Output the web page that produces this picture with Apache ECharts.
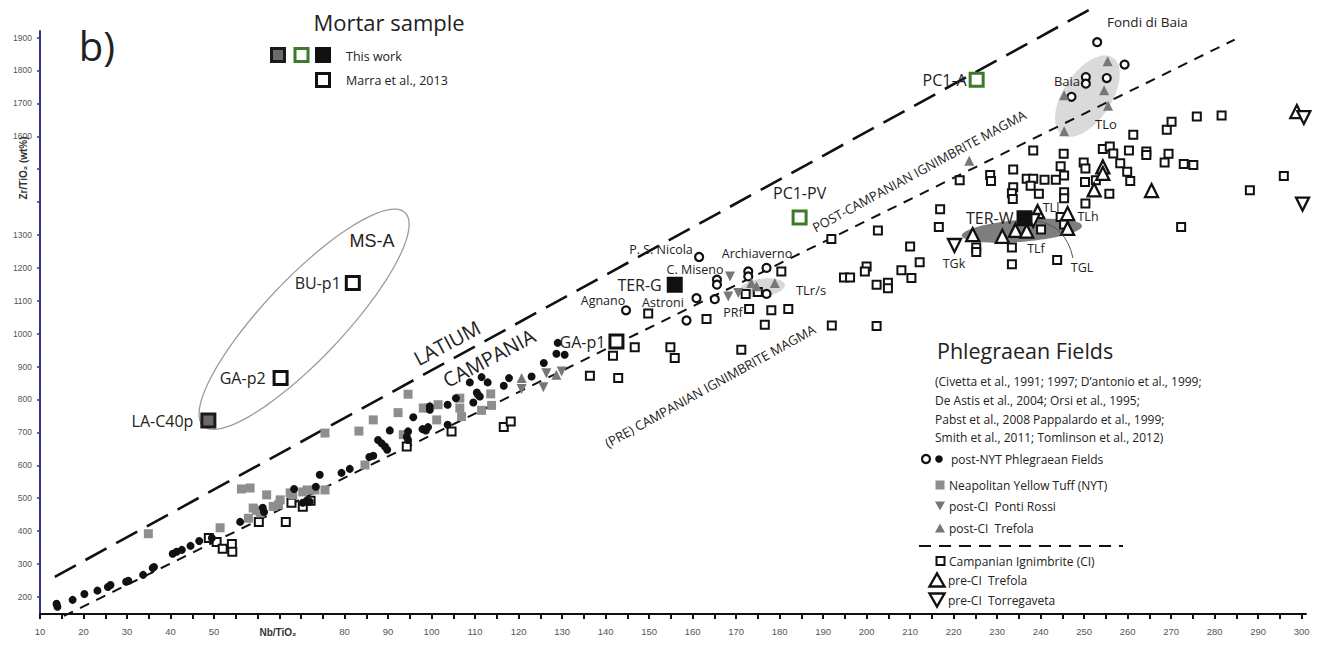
<!DOCTYPE html>
<html>
<head>
<meta charset="utf-8">
<title>Zr/TiO2 vs Nb/TiO2</title>
<script src="https://cdn.jsdelivr.net/npm/echarts@6/dist/echarts.min.js"></script>
<style>
html, body { margin: 0; padding: 0; background: #fff; }
#chart { width: 1325px; height: 650px; }
</style>
</head>
<body>
<div id="chart"></div>
<script>
// ---- data (Nb/TiO2, Zr/TiO2) ----
var postNytFilled = [[13.8,179],[14.0,170],[17.5,191],[20.2,209],[23.2,219],[25.6,230],[26.2,236],[29.8,246],[30.3,249],[33.7,267],[35.9,288],[36.2,291],[40.5,331],[41.4,337],[42.6,343],[44.6,355],[46.6,370],[49.5,379],[56.0,428],[61.2,471],[61.5,458],[68.4,528],[70.4,486],[71.3,492],[72.0,489],[73.4,535],[74.3,571],[79.3,577],[81.2,589],[85.7,625],[86.6,629],[87.7,677],[88.5,667],[89.3,657],[89.8,647],[90.4,706],[94.6,703],[94.3,687],[94.6,677],[95.8,746],[97.9,710],[98.7,706],[99.2,716],[99.6,779],[99.6,769],[103.7,784],[103.7,723],[105.6,804],[108.8,852],[109.6,791],[110.4,821],[110.7,814],[111.1,809],[111.5,868],[112.9,852],[116.6,842],[117.8,865],[123.0,870],[125.8,911],[128.7,939],[130.6,936],[129.0,972]];
var postNytOpen = [[161.5,1233],[165.6,1164],[165.6,1149],[172.8,1189],[172.8,1174],[177.0,1200],[177.0,1121],[160.9,1108],[165.1,1105],[144.7,1071],[158.6,1040],[253.0,1886],[259.3,1818],[250.4,1780],[250.4,1760],[247.1,1720],[255.2,1777]];
var nytTuff = [[34.9,392],[51.4,410],[56.3,528],[58.3,531],[62.1,510],[57.9,439],[59.0,470],[59.8,463],[60.6,455],[63.6,475],[64.8,480],[65.2,495],[67.5,516],[68.1,510],[70.4,519],[71.4,525],[73.2,525],[75.5,525],[75.5,698],[83.3,704],[86.6,738],[84.7,601],[92.3,760],[94.6,816],[93.5,693],[98.1,774],[99.2,774],[101.5,784],[101.2,738],[106.5,804],[106.5,774],[106.9,748],[111.5,767],[113.6,817],[113.8,782]];
var pontiRossi = [[120.7,832],[125.7,837],[126.4,880],[129.9,885],[168.6,1174],[168.2,1113],[170.5,1124]];
var postCiTrefola = [[120.7,865],[128.7,875],[173.5,1154],[174.7,1144],[178.9,1154],[223.6,1526],[245.4,1725],[245.4,1615],[255.4,1828],[254.6,1740],[255.5,1693]];
var campanianIgn = [[48.8,379],[50.6,367],[52.0,346],[54.1,361],[54.2,337],[60.3,428],[66.5,428],[67.8,486],[70.4,474],[72.2,492],
  [94.3,657],[104.6,703],[116.6,716],[118.2,733],[136.4,872],[142.9,865],[141.7,933],[146.7,959],
  [149.8,1061],[163.2,1045],[172.2,1121],[175.0,1127],[173.0,1075],[178.1,1071],[182.0,1075],[176.6,1027],[180.4,1189],[154.9,959],[155.9,926],[171.2,951],
  [191.9,1288],[194.8,1171],[196.2,1171],[200.0,1204],[199.6,1189],[202.3,1149],
  [238.3,1557],[245.3,1547],[254.3,1561],[255.9,1569],[256.7,1548],[260.3,1557],[264.3,1554],[264.3,1543],[269.4,1547],[268.5,1520],[272.9,1516],[275.1,1513],[295.9,1479],[288.1,1436],[272.3,1324],
  [221.4,1466],[228.4,1482],[228.6,1464],[233.7,1499],[236.8,1471],[238.3,1471],[240.9,1468],[243.5,1468],[244.6,1509],[245.4,1481],[249.9,1520],[250.3,1502],[250.2,1461],[252.7,1466],[258.3,1518],[259.9,1492],[260.6,1464],[255.8,1425],[250.3,1396],
  [233.7,1445],[233.4,1427],[233.6,1409],[237.7,1450],[239.6,1425],[245.4,1430],[245.4,1412],[244.6,1355],[245.4,1332],[240.1,1317],
  [216.9,1378],[216.6,1324],[202.6,1314],[210.0,1265],[212.2,1217],[225.2,1262],[225.2,1248],[233.4,1262],[233.4,1211],[243.8,1224],
  [208.0,1193],[210.3,1169],[204.9,1155],[204.9,1138],[192.0,1025],[202.3,1023],
  [261.3,1605],[269.0,1620],[270.1,1644],[275.9,1660],[281.6,1663]];
var preCiTrefola = [[254.3,1507],[254.3,1487],[252.3,1437],[265.5,1435],[239.3,1371],[246.2,1365],[224.4,1301],[231.2,1296],[234.2,1314],[236.8,1312],[246.2,1320],[298.9,1675]];
var preCiTorregaveta = [[220.2,1268],[238.3,1344],[300.2,1394],[300.5,1657]];

// mortar samples
var mortarGrey = [{ name: 'LA-C40p', value: [48.7, 736] }];
var mortarGreen = [{ name: 'PC1-PV', value: [184.6, 1353] }, { name: 'PC1-A', value: [225.3, 1772] }];
var mortarBlack = [{ name: 'TER-G', value: [155.9, 1149] }, { name: 'TER-W', value: [236.3, 1351] }];
var mortarMarra = [{ name: 'BU-p1', value: [81.9, 1154] }, { name: 'GA-p2', value: [65.3, 865] }, { name: 'GA-p1', value: [142.5, 976] }];

// boundary lines
var latiumBoundary = [[13.4, 261], [251.7, 1988]];
var ciBoundary = [[15.5, 142], [284.6, 1894]];

// fields (ends of the long axis of each outline)
var fieldAxes = [[47.5, 720, 93.9, 1368], [244.9, 1605, 256.6, 1839], [221.9, 1298, 249.5, 1328], [170.9, 1131, 181.2, 1149]];

// axis ticks
var xTicks = [];
for (var v = 10; v <= 300; v += 5) xTicks.push(v);
var xLabels = [10, 20, 30, 40, 50, 80, 90, 100, 110, 120, 130, 140, 150, 160, 170, 180, 190, 200, 210, 220, 230, 240, 250, 260, 270, 280, 290, 300];
var yTicks = [200, 300, 400, 500, 600, 700, 800, 900, 1000, 1100, 1200, 1300, 1400, 1500, 1600, 1700, 1800, 1900];
var yLabels = [200, 300, 400, 500, 600, 700, 800, 900, 1000, 1100, 1200, 1300, 1600, 1700, 1800, 1900];

// ---- styles ----
var FONT = '"Open Sans", "Noto Sans", sans-serif';
var AXISFONT = '"Liberation Sans", Arial, sans-serif';
var fieldStyles = [
  { half: 40, fill: 'none', stroke: '#9c9c9c', lineWidth: 1.3 },
  { half: 24, fill: '#dadada', stroke: 'none', lineWidth: 0 },
  { half: 11, fill: '#7e7e7e', stroke: 'none', lineWidth: 0 },
  { half: 9, fill: '#d8d8d8', stroke: 'none', lineWidth: 0 }
];
var labelPos = { 'PC1-PV': 'top' };
var labelGap = { 'LA-C40p': 7, 'GA-p2': 7, 'BU-p1': 4, 'GA-p1': 3, 'TER-G': 5, 'TER-W': 3, 'PC1-A': 2, 'PC1-PV': 9 };

function renderField(params, api) {
  var p1 = api.coord([api.value(0), api.value(1)]);
  var p2 = api.coord([api.value(2), api.value(3)]);
  var st = fieldStyles[params.dataIndex];
  var cx = (p1[0] + p2[0]) / 2, cy = (p1[1] + p2[1]) / 2;
  var dx = (p2[0] - p1[0]) / 2, dy = (p2[1] - p1[1]) / 2;
  var len = Math.sqrt(dx * dx + dy * dy);
  var nx = -dy / len * st.half, ny = dx / len * st.half;
  var pts = [];
  for (var i = 0; i < 120; i++) {
    var t = i / 120 * Math.PI * 2;
    pts.push([cx + dx * Math.cos(t) + nx * Math.sin(t), cy + dy * Math.cos(t) + ny * Math.sin(t)]);
  }
  return { type: 'polygon', shape: { points: pts }, style: { fill: st.fill, stroke: st.stroke, lineWidth: st.lineWidth } };
}

function mortarLabel(d) {
  return {
    show: true,
    formatter: '{b}',
    position: labelPos[d.name] || 'left',
    distance: labelGap[d.name],
    fontFamily: FONT, fontSize: 16, color: '#222'
  };
}
function mortarData(arr) {
  return arr.map(function (d) { return { name: d.name, value: d.value, label: mortarLabel(d) }; });
}

function scatter(name, data, symbol, size, color, border, borderWidth, rotate) {
  return {
    name: name, type: 'scatter', data: data, symbol: symbol, symbolSize: size,
    symbolRotate: rotate || 0, z: 5,
    itemStyle: { color: color, borderColor: border || color, borderWidth: borderWidth || 0, opacity: 1 }
  };
}

function txt(t, x, y, size, opts) {
  opts = opts || {};
  return {
    type: 'text', x: x, y: y, rotation: opts.rot ? opts.rot * Math.PI / 180 : 0, z: 20,
    style: {
      text: t, fill: opts.color || '#222', align: opts.align || 'center', verticalAlign: 'middle',
      font: (opts.weight || 'normal') + ' ' + size + 'px ' + (opts.family || FONT)
    }
  };
}
function sq(cx, cy, s, fill, stroke, lw) {
  return { type: 'rect', z: 20, shape: { x: cx - s / 2, y: cy - s / 2, width: s, height: s }, style: { fill: fill, stroke: stroke, lineWidth: lw } };
}
function tri(cx, cy, w, h, up, fill, stroke, lw) {
  var pts = up ? [[cx - w / 2, cy + h / 2], [cx + w / 2, cy + h / 2], [cx, cy - h / 2]] : [[cx - w / 2, cy - h / 2], [cx + w / 2, cy - h / 2], [cx, cy + h / 2]];
  return { type: 'polygon', z: 20, shape: { points: pts }, style: { fill: fill, stroke: stroke, lineWidth: lw } };
}

var graphics = [
  txt('b)', 97, 45, 40),
  txt('Mortar sample', 389, 22, 22),
  sq(278, 55, 13, '#6a6a6a', '#1a1a1a', 3),
  sq(301.5, 55, 13, '#fff', '#3c7a2a', 3),
  sq(323, 55, 13, '#111', '#111', 3),
  txt('This work', 346, 56, 12.5, { align: 'left' }),
  sq(323, 80, 13, '#fff', '#111', 3),
  txt('Marra et al., 2013', 346, 80, 12.5, { align: 'left' }),

  txt('MS-A', 372, 241, 18, { family: AXISFONT }),
  txt('LATIUM', 447, 343, 20, { rot: 28 }),
  txt('CAMPANIA', 489, 358, 20, { rot: 28 }),
  txt('(PRE) CAMPANIAN IGNIMBRITE MAGMA', 710, 386, 13, { rot: 29 }),
  txt('POST-CAMPANIAN IGNIMBRITE MAGMA', 919, 171, 13, { rot: 28.5 }),
  txt('P. S. Nicola', 661, 249, 12.5),
  txt('C. Miseno', 695, 269, 12.5),
  txt('Archiaverno', 757, 253, 12.5),
  txt('Agnano', 603, 300, 12.5),
  txt('Astroni', 663, 302, 12.5),
  txt('PRf', 733, 312, 12.5),
  txt('TLr/s', 811, 290, 13),
  txt('Baia', 1067, 81, 13),
  txt('Fondi di Baia', 1107, 22, 13.5, { align: 'left' }),
  txt('TLo', 1106, 124, 13),
  txt('TLl', 1051, 207, 12.5),
  txt('TLh', 1088, 216, 12.5),
  txt('TLf', 1036, 248, 12.5),
  txt('TGL', 1082, 267, 12.5),
  txt('TGk', 954, 263, 12.5),
  { type: 'bezierCurve', z: 19, shape: { x1: 1037, y1: 221, x2: 1073, y2: 258, cpx1: 1066, cpy1: 226 }, style: { stroke: '#555', lineWidth: 1, fill: 'none' } },

  txt('Phlegraean Fields', 937, 350, 21.5, { align: 'left' }),
  txt('(Civetta et al., 1991; 1997; D\u2019antonio et al., 1999;', 935, 381, 12, { align: 'left' }),
  txt('De Astis et al., 2004; Orsi et al., 1995;', 935, 400, 12, { align: 'left' }),
  txt('Pabst et al., 2008 Pappalardo et al., 1999;', 935, 419, 12, { align: 'left' }),
  txt('Smith et al., 2011; Tomlinson et al., 2012)', 935, 437, 12, { align: 'left' }),

  { type: 'circle', z: 20, shape: { cx: 926, cy: 459, r: 4 }, style: { fill: '#fff', stroke: '#111', lineWidth: 2.2 } },
  { type: 'circle', z: 20, shape: { cx: 939, cy: 459, r: 3.8 }, style: { fill: '#111' } },
  txt('post-NYT Phlegraean Fields', 951, 459, 12, { align: 'left' }),
  sq(940, 485, 9, '#8e8e8e', 'none', 0),
  txt('Neapolitan Yellow Tuff (NYT)', 949, 485, 12, { align: 'left' }),
  tri(940, 506, 10, 9, false, '#777', 'none', 0),
  txt('post-CI  Ponti Rossi', 949, 506, 12, { align: 'left' }),
  tri(940, 528, 10, 9, true, '#777', 'none', 0),
  txt('post-CI  Trefola', 949, 528, 12, { align: 'left' }),
  { type: 'line', z: 20, shape: { x1: 919, y1: 546, x2: 1123, y2: 546 }, style: { stroke: '#111', lineWidth: 2, lineDash: [12, 8] } },
  sq(940.5, 561, 8, '#fff', '#111', 2),
  txt('Campanian Ignimbrite (CI)', 949, 561, 12, { align: 'left' }),
  tri(937, 580, 15, 13, true, '#fff', '#111', 2.4),
  txt('pre-CI  Trefola', 948, 580, 12, { align: 'left' }),
  tri(937, 600, 15, 13, false, '#fff', '#111', 2.4),
  txt('pre-CI  Torregaveta', 948, 600, 12, { align: 'left' }),

  txt('Zr/TiO\u2082 (wt%)', 23, 168, 10, { rot: 90, weight: 'bold', family: AXISFONT, color: '#333' }),
  txt('Nb/TiO\u2082', 278, 632, 10, { weight: 'bold', family: AXISFONT, color: '#333' })
];

var option = {
  animation: false,
  backgroundColor: '#fff',
  grid: { left: 40, right: 19, top: 31, bottom: 36 },
  xAxis: {
    type: 'value', min: 10, max: 301,
    axisLine: { show: true, onZero: false, lineStyle: { color: '#111', width: 2 } },
    axisTick: { show: true, customValues: xTicks, length: 5, lineStyle: { color: '#111', width: 2 } },
    axisLabel: { customValues: xLabels, margin: 12, fontSize: 9.5, color: '#555', fontFamily: AXISFONT },
    splitLine: { show: false }
  },
  yAxis: {
    type: 'value', min: 148, max: 1920,
    axisLine: { show: true, onZero: false, lineStyle: { color: '#34348e', width: 2 } },
    axisTick: { show: true, customValues: yTicks, length: 3, lineStyle: { color: '#34348e', width: 1.5 } },
    axisLabel: {
      customValues: yLabels, margin: 8, fontSize: 8.5, color: '#555', fontFamily: AXISFONT,
      formatter: function (val) { return String(Math.round(val)); }
    },
    splitLine: { show: false }
  },
  graphic: graphics,
  series: [
    {
      name: 'fields', type: 'custom', renderItem: renderField, data: fieldAxes, z: 1, clip: false,
      encode: { x: [0, 2], y: [1, 3] }, silent: true
    },
    {
      name: 'Latium / Campania', type: 'line', data: latiumBoundary, symbol: 'none', clip: false, z: 3,
      lineStyle: { color: '#111', width: 2.6, type: [24, 11] }
    },
    {
      name: 'pre / post CI', type: 'line', data: ciBoundary, symbol: 'none', clip: false, z: 3,
      lineStyle: { color: '#111', width: 2, type: [10, 8] }
    },
    scatter('Campanian Ignimbrite (CI)', campanianIgn, 'rect', 8, '#fff', '#111', 2),
    scatter('Neapolitan Yellow Tuff (NYT)', nytTuff, 'rect', 9, '#8e8e8e'),
    scatter('post-NYT Phlegraean Fields', postNytFilled, 'circle', 8, '#111'),
    scatter('post-NYT Phlegraean Fields (open)', postNytOpen, 'circle', 8, '#fff', '#111', 2.2),
    scatter('post-CI Ponti Rossi', pontiRossi, 'triangle', 10, '#777', '#777', 0, 180),
    scatter('post-CI Trefola', postCiTrefola, 'triangle', 10, '#777'),
    scatter('pre-CI Trefola', preCiTrefola, 'triangle', 13, '#fff', '#111', 2.3),
    scatter('pre-CI Torregaveta', preCiTorregaveta, 'triangle', 13, '#fff', '#111', 2.3, 180),
    scatter('LA-C40p', mortarData(mortarGrey), 'rect', 13, '#6a6a6a', '#1a1a1a', 3),
    scatter('PC1', mortarData(mortarGreen), 'rect', 13, '#fff', '#3c7a2a', 3),
    scatter('TER', mortarData(mortarBlack), 'rect', 14, '#111', '#111', 2),
    scatter('Marra et al., 2013', mortarData(mortarMarra), 'rect', 13, '#fff', '#111', 3)
  ]
};

var chart = echarts.init(document.getElementById('chart'), null, { renderer: 'svg' });
chart.setOption(option);
</script>
</body>
</html>
